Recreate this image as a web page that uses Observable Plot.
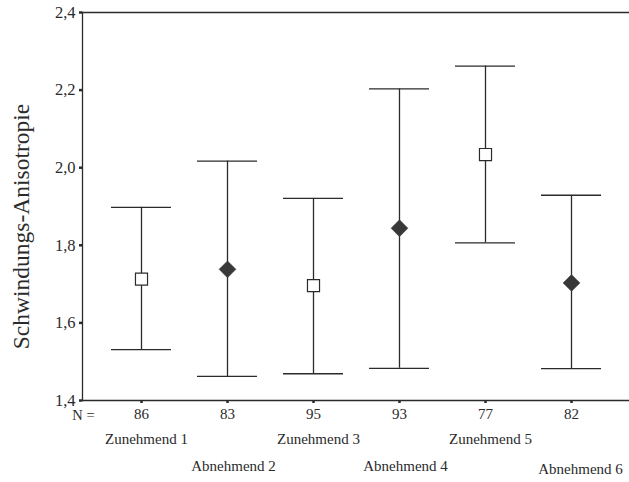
<!DOCTYPE html>
<html>
<head>
<meta charset="utf-8">
<script src="https://cdn.jsdelivr.net/npm/d3@7"></script>
<script src="https://cdn.jsdelivr.net/npm/@observablehq/plot@0.6"></script>
<style>
  html, body { margin: 0; padding: 0; background: #fff; }
  #chart svg { display: block; }
</style>
</head>
<body>
<div id="chart"></div>
<script>
// Data
const categories = ["Zunehmend 1", "Abnehmend 2", "Zunehmend 3", "Abnehmend 4", "Zunehmend 5", "Abnehmend 6"];
const counts     = [86, 83, 95, 93, 77, 82];
const means      = [1.713, 1.738, 1.696, 1.844, 2.034, 1.703];
const lower      = [1.531, 1.462, 1.469, 1.483, 1.806, 1.482];
const upper      = [1.898, 2.017, 1.921, 2.203, 2.262, 1.929];
const trends     = ["Zunehmend", "Abnehmend", "Zunehmend", "Abnehmend", "Zunehmend", "Abnehmend"];
const yTicks     = [1.4, 1.6, 1.8, 2.0, 2.2, 2.4];
const yTitle     = "Schwindungs-Anisotropie";
const nLabel     = "N =";

const data = categories.map((c, i) => ({
  cat: c, n: counts[i], mean: means[i], lo: lower[i], hi: upper[i], trend: trends[i]
}));
const nByCat = new Map(data.map(d => [d.cat, d.n]));
const ink = "#2b2b2b";

const chart = Plot.plot({
  width: 629,
  height: 482,
  marginTop: 12,
  marginLeft: 82,
  marginRight: 0,
  marginBottom: 82,
  style: { fontFamily: "'Liberation Serif', 'Times New Roman', serif", color: ink, background: "#fff" },
  x: { type: "point", domain: categories, padding: 0.673 },
  y: { domain: [1.4, 2.4] },
  marks: [
    Plot.ruleY([2.4], { stroke: ink, strokeWidth: 1.3 }),
    Plot.ruleY([1.4], { stroke: ink, strokeWidth: 1.3 }),
    Plot.frame({ anchor: "left", stroke: ink, strokeWidth: 1.3 }),
    Plot.axisY({ ticks: yTicks, tickFormat: d => d.toFixed(1).replace(".", ","), tickSize: 3, tickPadding: 4, fontSize: 16.5, label: null, strokeWidth: 2.5 }),
    Plot.axisX({ tickFormat: c => nByCat.get(c), tickSize: 3, tickPadding: 5, fontSize: 15, label: null, strokeWidth: 2.5 }),
    Plot.text([nLabel], { frameAnchor: "bottom-left", textAnchor: "middle", dy: 19, dx: 1, fontSize: 14.5, fill: ink }),
    Plot.text([yTitle], { frameAnchor: "left", textAnchor: "middle", rotate: -90, dx: -61, dy: 20, fontSize: 23.5, fill: ink }),
    // error bars
    Plot.ruleX(data, { x: "cat", y1: "lo", y2: "hi", stroke: ink, strokeWidth: 1.3 }),
    Plot.ruleY(data, { y: "hi", x1: "cat", x2: "cat", insetLeft: -30, insetRight: -30, stroke: ink, strokeWidth: 1.3 }),
    Plot.ruleY(data, { y: "lo", x1: "cat", x2: "cat", insetLeft: -30, insetRight: -30, stroke: ink, strokeWidth: 1.3 }),
    // means
    Plot.dot(data.filter(d => d.trend === "Zunehmend"), { x: "cat", y: "mean", symbol: "square", r: 6.8, fill: "#fff", stroke: ink, strokeWidth: 1.2 }),
    Plot.dot(data.filter(d => d.trend === "Abnehmend"), { x: "cat", y: "mean", symbol: "diamond2", r: 7.6, fill: "#383838", stroke: "#383838", strokeWidth: 0.5 }),
    // category labels, staggered
    Plot.text(data.filter(d => d.trend === "Zunehmend"), { x: "cat", text: "cat", frameAnchor: "bottom", dy: 43, dx: 5, fontSize: 15, fill: ink }),
    Plot.text(data.filter(d => d.trend === "Abnehmend" && d.cat !== "Abnehmend 6"), { x: "cat", text: "cat", frameAnchor: "bottom", dy: 70, dx: 6, fontSize: 15, fill: ink }),
    Plot.text(data.filter(d => d.cat === "Abnehmend 6"), { x: "cat", text: "cat", frameAnchor: "bottom", dy: 73, dx: 9, fontSize: 15, fill: ink })
  ]
});
document.getElementById("chart").appendChild(chart);
</script>
</body>
</html>
